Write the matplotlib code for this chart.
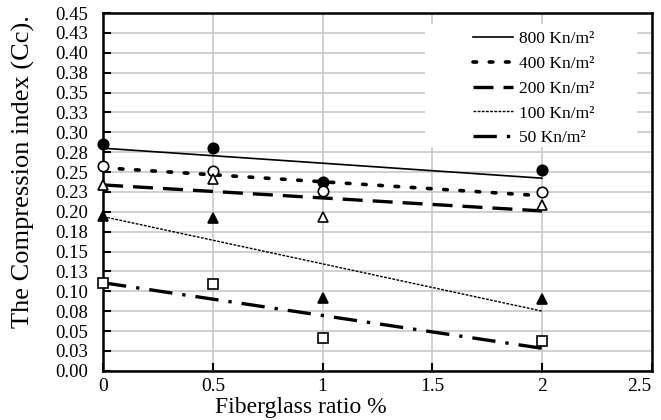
import numpy as np
import matplotlib
matplotlib.use("Agg")
import matplotlib.pyplot as plt
from matplotlib.patches import Rectangle

plt.rcParams["font.family"] = "Liberation Serif"

# fiberglass ratio (%)
fiber = [0, 0.5, 1, 2]

# compression index Cc for each applied pressure
cc_800 = [0.285, 0.280, 0.237, 0.252]
cc_400 = [0.258, 0.251, 0.226, 0.225]
cc_200 = [0.234, 0.241, 0.194, 0.209]
cc_100 = [0.195, 0.192, 0.091, 0.090]
cc_50 = [0.111, 0.109, 0.041, 0.038]

labels = ["800 Kn/m²", "400 Kn/m²", "200 Kn/m²", "100 Kn/m²", "50 Kn/m²"]

ytick_vals = [i * 0.025 for i in range(19)]
ytick_labels = ["0.00", "0.03", "0.05", "0.08", "0.10", "0.13", "0.15", "0.18", "0.20",
                "0.23", "0.25", "0.28", "0.30", "0.33", "0.35", "0.38", "0.40", "0.43", "0.45"]
xtick_vals = [0, 0.5, 1, 1.5, 2, 2.5]
xtick_labels = ["0", "0.5", "1", "1.5", "2", "2.5"]

series = [
    (cc_800, dict(marker="o", mfc="black"), dict(ls="-", lw=1.2)),
    (cc_400, dict(marker="o", mfc="white"), dict(ls=(0, (1, 3.5)), lw=2.6, dash_capstyle="round")),
    (cc_200, dict(marker="^", mfc="white"), dict(ls=(0, (6, 3)), lw=2.4)),
    (cc_100, dict(marker="^", mfc="black"), dict(ls=(0, (2, 1)), lw=1.0)),
    (cc_50, dict(marker="s", mfc="white"), dict(ls=(0, (7, 3, 1, 3)), lw=2.4)),
]

fig = plt.figure(figsize=(6.61, 4.20), dpi=100)
ax = fig.add_axes([0.156, 0.117, 0.830, 0.852])

x = np.array(fiber)
xs = np.array([0, 2])
handles = []
for vals, mk, ln in series:
    slope, inter = np.polyfit(x, vals, 1)
    h, = ax.plot(xs, slope * xs + inter, color="black", zorder=3, **ln)
    handles.append(h)
    ax.plot(x, vals, ls="none", color="black", mec="black", ms=7.5, mew=1.2,
            zorder=4, clip_on=False, **mk)

ax.set_xlim(0, 2.5)
ax.set_ylim(0, 0.45)
ax.set_xticks(xtick_vals)
ax.set_xticklabels(xtick_labels, fontsize=14)
ax.get_xticklabels()[-1].set_horizontalalignment("right")
ax.set_yticks(ytick_vals)
ax.set_yticklabels(ytick_labels, fontsize=13.5)
ax.tick_params(axis="both", direction="in", length=6, width=1.5, color="black")
ax.tick_params(axis="y", pad=11)
ax.tick_params(axis="x", pad=5)

ax.grid(True, color="#c8c8c8", lw=1.2, zorder=0)
for s in ax.spines.values():
    s.set_linewidth(1.8)
    s.set_color("black")

ax.set_xlabel("Fiberglass ratio %", fontsize=17, labelpad=0)
ax.xaxis.set_label_coords(0.36, -0.072)
ax.set_ylabel("The Compression index (Cc).", fontsize=19)
ax.yaxis.set_label_coords(-0.125, 0.556)

# white area behind the legend hides the grid there
ax.add_patch(Rectangle((0.587, 0.625), 0.386, 0.345, transform=ax.transAxes,
                       facecolor="white", edgecolor="none", zorder=2))

leg = ax.legend(handles, labels, loc="upper left", bbox_to_anchor=(0.674, 0.95),
                frameon=False, fontsize=12.5, handlelength=2.3, borderpad=0,
                borderaxespad=0, handletextpad=0.35, labelspacing=0.5)
leg.set_zorder(5)

fig.savefig("out.png", dpi=100)
